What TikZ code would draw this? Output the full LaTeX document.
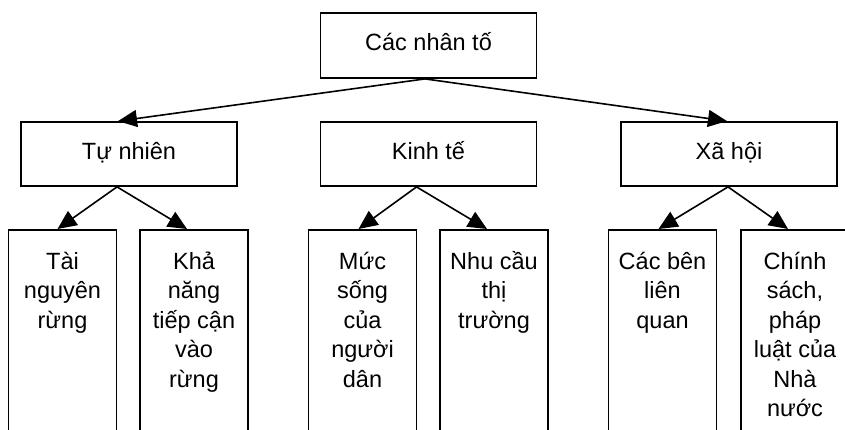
\documentclass[tikz,border=0pt]{standalone}
\usepackage{fontspec}
\setmainfont{Liberation Sans}
\usetikzlibrary{arrows.meta}
% invisible strut that fixes the height of a box's first text line
\newcommand\firstline{\rule{0pt}{19pt}}
\begin{document}
\begin{tikzpicture}[x=1pt,y=-1pt,
  txt/.style={font=\fontsize{23.5}{29.5}\selectfont},
  head/.style={draw, line width=1.8pt, inner sep=0pt, txt,
    minimum width=216pt, minimum height=64pt, text height=17pt, text depth=6pt},
  leaf/.style={draw, line width=1.8pt, inner sep=0pt, anchor=north,
    minimum width=108pt, minimum height=225pt},
  leaftext/.style={anchor=north, align=center, inner sep=0pt, txt},
  link/.style={line width=1.6pt, -{Triangle[length=19pt,width=17pt]}}]
\useasboundingbox (0,0) rectangle (845,430);
\fill[white] (0,0) rectangle (845,430);

% root and the three groups
\node[head, minimum height=65pt] (root) at (428.5,45.5) {Các nhân tố};
\node[head] (tn) at (129,154) {Tự nhiên};
\node[head] (kt) at (428.5,154) {Kinh tế};
\node[head] (xh) at (729,154) {Xã hội};

% leaf boxes (they run past the lower edge)
\node[leaf] (l1) at (62.5,229) {};
\node[leaf] (l2) at (194,229) {};
\node[leaf] (l3) at (362.5,229) {};
\node[leaf] (l4) at (494,229) {};
\node[leaf] (l5) at (662.5,229) {};
\node[leaf] (l6) at (795,229) {};

% leaf texts
\node[leaftext] (t1) at ([yshift=-21pt]l1.north) {\firstline Tài\\nguyên\\rừng};
\node[leaftext] (t2) at ([yshift=-21pt]l2.north) {\firstline Khả\\năng\\tiếp cận\\vào\\rừng};
\node[leaftext] (t3) at ([yshift=-21pt]l3.north) {\firstline Mức\\sống\\của\\người\\dân};
\node[leaftext] (t4) at ([yshift=-21pt]l4.north) {\firstline Nhu cầu\\thị\\trường};
\node[leaftext] (t5) at ([yshift=-21pt]l5.north) {\firstline Các bên\\liên\\quan};
\node[leaftext] (t6) at ([yshift=-21pt]l6.north) {\firstline Chính\\sách,\\pháp\\luật của\\Nhà\\nước};

% connectors
\coordinate (rootOut) at ([xshift=-3.5pt]root.south);
\draw[link] (rootOut) -- ([xshift=-11pt]tn.north);
\draw[link] (rootOut) -- ([xshift=-2pt]xh.north);

\coordinate (tnOut) at ([xshift=-12pt]tn.south);
\draw[link] (tnOut) -- ([xshift=-5pt]l1.north);
\draw[link] (tnOut) -- ([xshift=-7pt]l2.north);

\coordinate (ktOut) at ([xshift=-12pt]kt.south);
\draw[link] (ktOut) -- ([xshift=-4pt]l3.north);
\draw[link] (ktOut) -- ([xshift=-7pt]l4.north);

\coordinate (xhOut) at ([xshift=-1pt]xh.south);
\draw[link] (xhOut) -- ([xshift=-4pt]l5.north);
\draw[link] (xhOut) -- ([xshift=-7pt]l6.north);
\end{tikzpicture}
\end{document}
